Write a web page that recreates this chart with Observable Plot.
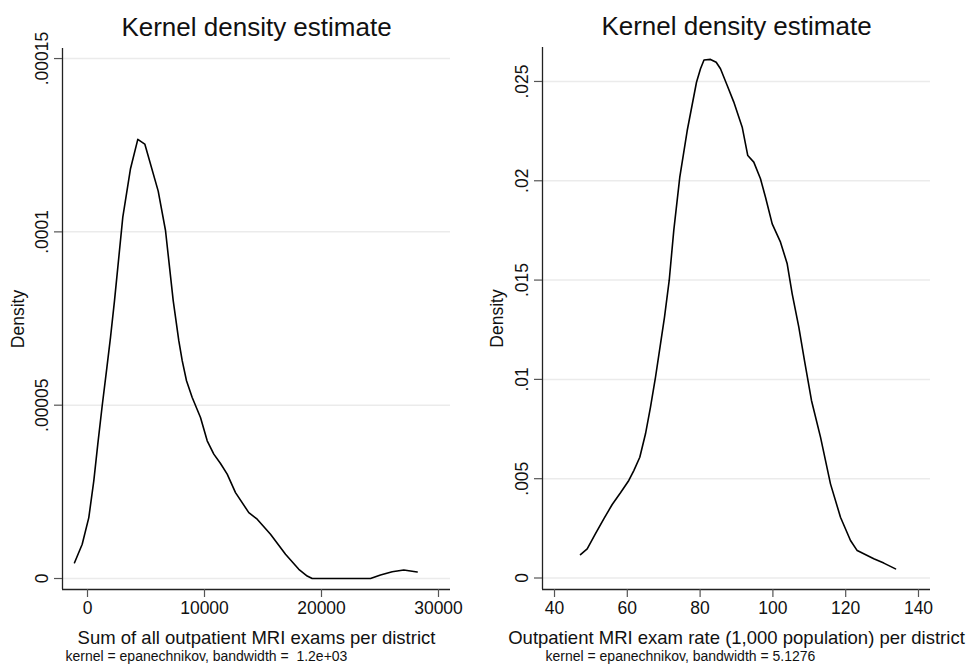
<!DOCTYPE html>
<html>
<head>
<meta charset="utf-8">
<script src="https://cdn.jsdelivr.net/npm/d3@7"></script>
<script src="https://cdn.jsdelivr.net/npm/@observablehq/plot@0.6"></script>
<style>
  html, body { margin: 0; padding: 0; background: white; }
  #wrap { position: relative; width: 968px; height: 668px; overflow: hidden; background: white; }
  #wrap > svg { position: absolute; top: 0; }
</style>
</head>
<body>
<div id="wrap"></div>
<script>
// ---- Left panel: Sum of all outpatient MRI exams per district ----
const leftX = [-1111, -453, 111, 538, 880, 1256, 1624, 1966, 2308, 3017, 3675, 4299, 4897, 6043, 6667, 7325, 7803, 8094, 8462, 8949, 9658, 10231, 10795, 11368, 11940, 12650, 13786, 14504, 15641, 16923, 18060, 18778, 19205, 21624, 24188, 25043, 26043, 27034, 28179];
const leftY = [0.00000456, 0.00000988, 0.00001757, 0.00002817, 0.00003877, 0.00004983, 0.00005995, 0.00006957, 0.00008017, 0.00010424, 0.00011822, 0.00012668, 0.00012533, 0.00011175, 0.00010039, 0.00008017, 0.00006861, 0.00006284, 0.00005706, 0.00005223, 0.00004646, 0.00003972, 0.00003588, 0.00003317, 0.00003010, 0.00002479, 0.00001901, 0.00001710, 0.00001277, 0.00000699, 0.00000266, 0.00000072, 0, 0, 0, 0.00000101, 0.00000196, 0.00000246, 0.00000188];
const leftXTicks = [0, 10000, 20000, 30000];
const leftXTickLabels = ["0", "10000", "20000", "30000"];
const leftYTicks = [0, 0.00005, 0.0001, 0.00015];
const leftYTickLabels = ["0", ".00005", ".0001", ".00015"];
const leftXTitle = "Sum of all outpatient MRI exams per district";
const leftNote = "kernel = epanechnikov, bandwidth =  1.2e+03";

// ---- Right panel: Outpatient MRI exam rate per district ----
const rightX = [47.14, 48.98, 51.26, 53.54, 55.85, 58.13, 60.41, 61.79, 63.43, 65.0, 66.37, 67.75, 69.12, 70.22, 71.51, 72.77, 74.42, 76.46, 79.01, 80.11, 81.07, 82.86, 84.42, 85.60, 87.45, 89.26, 91.57, 93.10, 94.75, 96.59, 97.97, 99.81, 102.09, 103.93, 105.30, 107.12, 108.68, 110.60, 113.08, 115.82, 118.57, 121.32, 123.16, 127.72, 130.47, 133.68];
const rightY = [0.00118, 0.00147, 0.00223, 0.00298, 0.00370, 0.00429, 0.00491, 0.00541, 0.00608, 0.00726, 0.00860, 0.01011, 0.01179, 0.01313, 0.01498, 0.01750, 0.02018, 0.02253, 0.02496, 0.02564, 0.02608, 0.02611, 0.02597, 0.02564, 0.02480, 0.02396, 0.02270, 0.02127, 0.02094, 0.02010, 0.01917, 0.01783, 0.01691, 0.01582, 0.01431, 0.01263, 0.01095, 0.00894, 0.00709, 0.00474, 0.00306, 0.00189, 0.00138, 0.00097, 0.00075, 0.00046];
const rightXTicks = [40, 60, 80, 100, 120, 140];
const rightXTickLabels = ["40", "60", "80", "100", "120", "140"];
const rightYTicks = [0, 0.005, 0.01, 0.015, 0.02, 0.025];
const rightYTickLabels = ["0", ".005", ".01", ".015", ".02", ".025"];
const rightXTitle = "Outpatient MRI exam rate (1,000 population) per district";
const rightNote = "kernel = epanechnikov, bandwidth = 5.1276";

const chartTitle = "Kernel density estimate";
const yTitle = "Density";

const FONT = "'Liberation Sans', Arial, Helvetica, sans-serif";

function panel(cfg) {
  const data = cfg.xs.map((x, i) => ({x, y: cfg.ys[i]}));
  const fmtX = d => cfg.xLabels[cfg.xTicks.indexOf(d)];
  const fmtY = d => cfg.yLabels[cfg.yTicks.indexOf(d)];
  return Plot.plot({
    width: 484,
    height: 668,
    marginLeft: cfg.ml,
    marginRight: cfg.mr,
    marginTop: cfg.mt,
    marginBottom: 79,
    style: {fontFamily: FONT, background: "white", color: "#111", overflow: "visible"},
    x: {domain: cfg.xDomain, axis: null},
    y: {domain: cfg.yDomain, axis: null},
    marks: [
      Plot.gridY(cfg.yTicks, {stroke: "#ebebeb", strokeOpacity: 1, strokeWidth: 1.5}),
      Plot.ruleY([cfg.yDomain[0]], {stroke: "#222", strokeWidth: 1.3}),
      Plot.ruleX([cfg.xDomain[0]], {stroke: "#222", strokeWidth: 1.3}),
      Plot.axisX(cfg.xTicks, {anchor: "bottom", tickSize: 8, tickPadding: 4, stroke: "#555", strokeWidth: 1.2, fontSize: 17.5, fill: "#111", tickFormat: fmtX, label: null}),
      Plot.axisY(cfg.yTicks, {anchor: "left", tickSize: 8, tickPadding: 7, tickRotate: -90, stroke: "#555", strokeWidth: 1.2, fontSize: 17.5, fill: "#111", tickFormat: fmtY, label: null}),
      Plot.line(data, {x: "x", y: "y", stroke: "#000", strokeWidth: 1.6}),
      Plot.text([chartTitle], {frameAnchor: "top", lineAnchor: "bottom", dy: -13, fontSize: 26, fill: "#111"}),
      Plot.text([yTitle], {frameAnchor: "left", rotate: -90, textAnchor: "middle", lineAnchor: "middle", dx: cfg.yTitleDx, fontSize: 17.5, fill: "#111"}),
      Plot.text([cfg.xTitle], {frameAnchor: "bottom", lineAnchor: "bottom", dy: 54, fontSize: 18.5, fill: "#111"}),
      Plot.text([cfg.note], {frameAnchor: "bottom-left", textAnchor: "start", lineAnchor: "bottom", dx: 3, dy: 71, fontSize: 14, fill: "#111"})
    ]
  });
}

const left = panel({
  xs: leftX, ys: leftY,
  xTicks: leftXTicks, xLabels: leftXTickLabels,
  yTicks: leftYTicks, yLabels: leftYTickLabels,
  xDomain: [-2137, 31026], yDomain: [-0.00000317, 0.0001529],
  ml: 62, mr: 34, mt: 48, yTitleDx: -44,
  xTitle: leftXTitle, note: leftNote
});
const right = panel({
  xs: rightX, ys: rightY,
  xTicks: rightXTicks, xLabels: rightXTickLabels,
  yTicks: rightYTicks, yLabels: rightYTickLabels,
  xDomain: [36.70, 143.30], yDomain: [-0.000579, 0.02671],
  ml: 58, mr: 38, mt: 47, yTitleDx: -45,
  xTitle: rightXTitle, note: rightNote
});
left.style.left = "0px";
right.style.left = "484px";
const wrap = document.getElementById("wrap");
wrap.appendChild(left);
wrap.appendChild(right);
</script>
</body>
</html>
